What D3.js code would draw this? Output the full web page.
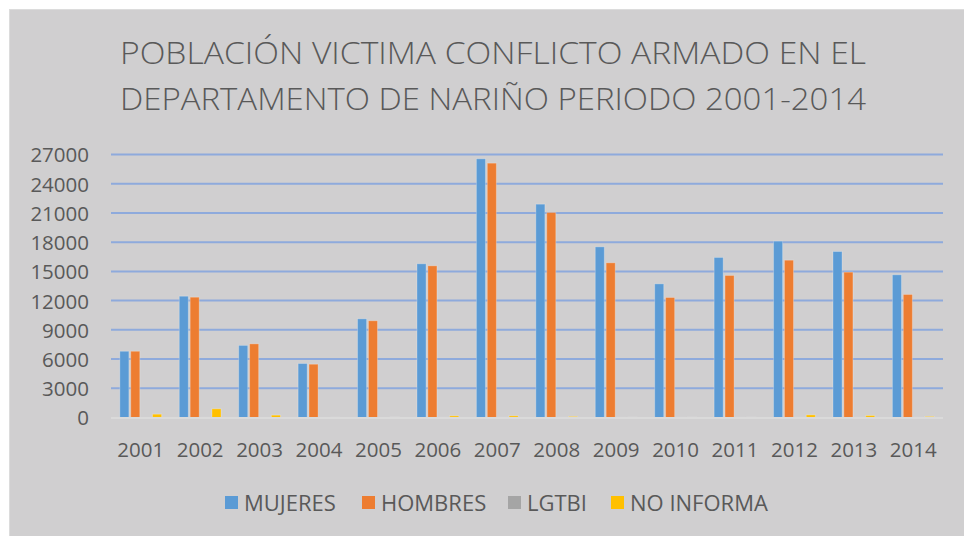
<!DOCTYPE html>
<html>
<head>
<meta charset="utf-8">
<script src="https://cdn.jsdelivr.net/npm/d3@7"></script>
<style>
  body { margin: 0; background: #fff; }
  text { font-family: "Open Sans", "Liberation Sans", sans-serif; fill: #595959; }
</style>
</head>
<body>
<div id="chart"></div>
<script>
// datos
var years = ["2001", "2002", "2003", "2004", "2005", "2006", "2007", "2008", "2009", "2010", "2011", "2012", "2013", "2014"];
var series = ["MUJERES", "HOMBRES", "LGTBI", "NO INFORMA"];
var colors = ["#5b9bd5", "#ed7d31", "#a5a5a5", "#ffc000"];
var mujeres = [6800, 12450, 7400, 5540, 10130, 15780, 26560, 21900, 17520, 13720, 16430, 18100, 17040, 14650];
var hombres = [6800, 12350, 7560, 5470, 9930, 15570, 26110, 21050, 15880, 12320, 14580, 16150, 14920, 12630];
var lgtbi = [5, 10, 5, 5, 5, 10, 15, 10, 10, 10, 10, 15, 10, 10];
var noInforma = [340, 890, 240, 20, 40, 170, 170, 100, 30, 30, 30, 270, 200, 100];
var yTicks = [0, 3000, 6000, 9000, 12000, 15000, 18000, 21000, 24000, 27000];
var titleLines = ["POBLACIÓN VICTIMA CONFLICTO ARMADO EN EL", "DEPARTAMENTO DE NARIÑO PERIODO 2001-2014"];

var values = [mujeres, hombres, lgtbi, noInforma];

var W = 964, H = 536;
var svg = d3.select("#chart")
    .append("svg")
    .attr("width", W)
    .attr("height", H);

// panel
svg.append("rect")
    .attr("x", 9.5)
    .attr("y", 9.5)
    .attr("width", W - 9)
    .attr("height", H - 9)
    .style("fill", "#d0cfd0")
    .style("stroke", "#dcdcdc")
    .style("stroke-width", 1);

// titulo
svg.selectAll(".title")
    .data(titleLines)
    .enter()
    .append("text")
    .attr("class", "title")
    .attr("x", 120)
    .attr("y", function (d, i) { return 64 + i * 46; })
    .attr("font-size", 32)
    .attr("font-weight", 300)
    .attr("textLength", 746)
    .attr("lengthAdjust", "spacingAndGlyphs")
    .text(function (d) { return d; });

var plotLeft = 111, plotRight = 943, plotTop = 154.5, plotBottom = 417.5;

var x0 = d3.scaleBand()
    .domain(years)
    .range([plotLeft, plotRight]);

var x1 = d3.scaleBand()
    .domain(series)
    .range([0, x0.bandwidth()])
    .paddingInner(0.17)
    .paddingOuter(0.81);

var y = d3.scaleLinear()
    .domain([0, 27000])
    .range([plotBottom, plotTop]);

// lineas de cuadricula
svg.append("g")
    .selectAll("line")
    .data(yTicks.slice(1))
    .enter()
    .append("line")
    .attr("x1", plotLeft)
    .attr("x2", plotRight)
    .attr("y1", function (d) { return y(d); })
    .attr("y2", function (d) { return y(d); })
    .style("stroke", "#8eaadc")
    .style("stroke-width", 2);

// eje y
var yAxis = svg.append("g")
    .attr("transform", "translate(" + (plotLeft - 22) + ",0)")
    .call(d3.axisLeft(y).tickValues(yTicks).tickSize(0).tickPadding(0).tickFormat(d3.format("d")));
yAxis.select(".domain").remove();
yAxis.selectAll("text")
    .attr("font-size", 20.5)
    .attr("dy", "0.36em")
    .style("font-family", "'Open Sans', sans-serif")
    .style("fill", "#595959");

// barras
var groups = svg.append("g")
    .selectAll("g")
    .data(years)
    .enter()
    .append("g")
    .attr("transform", function (d) { return "translate(" + x0(d) + ",0)"; });

groups.selectAll("rect")
    .data(function (d, i) {
        return series.map(function (s, k) { return { s: s, k: k, v: values[k][i] }; });
    })
    .enter()
    .append("rect")
    .attr("x", function (d) { return x1(d.s); })
    .attr("width", x1.bandwidth())
    .attr("y", function (d) { return y(d.v); })
    .attr("height", function (d) { return plotBottom - y(d.v); })
    .style("fill", function (d) { return colors[d.k]; })
    .style("stroke", "rgba(255,255,255,0.25)")
    .style("stroke-width", 1);

// eje x
svg.append("line")
    .attr("x1", plotLeft)
    .attr("x2", plotRight)
    .attr("y1", plotBottom + 0.5)
    .attr("y2", plotBottom + 0.5)
    .style("stroke", "#dadada")
    .style("stroke-width", 2);

var xAxis = svg.append("g")
    .attr("transform", "translate(0," + plotBottom + ")")
    .call(d3.axisBottom(x0).tickSize(0).tickPadding(0));
xAxis.select(".domain").remove();
xAxis.selectAll("text")
    .attr("y", 39)
    .attr("dy", 0)
    .attr("font-size", 20.5)
    .style("font-family", "'Open Sans', sans-serif")
    .style("fill", "#595959");

// leyenda
var legendX = [225, 362, 508, 611];
var legend = svg.append("g")
    .selectAll("g")
    .data(series)
    .enter()
    .append("g")
    .attr("transform", function (d, i) { return "translate(" + legendX[i] + ",496)"; });

legend.append("rect")
    .attr("width", 13)
    .attr("height", 13)
    .style("fill", function (d, i) { return colors[i]; });

legend.append("text")
    .attr("x", 19)
    .attr("y", 14.5)
    .attr("font-size", 22)
    .text(function (d) { return d; });
</script>
</body>
</html>
